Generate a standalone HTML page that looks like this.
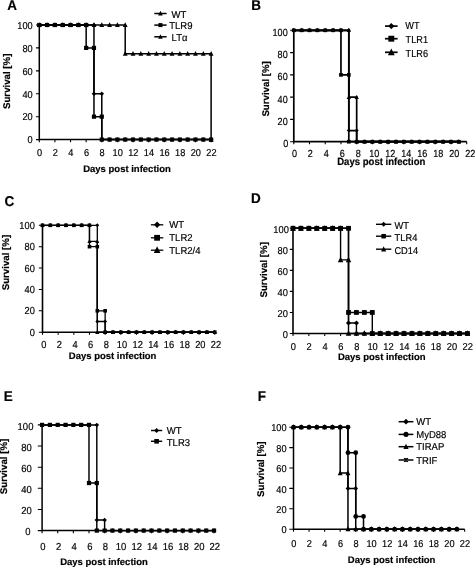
<!DOCTYPE html>
<html lang="en">
<head>
<meta charset="utf-8">
<title>Survival curves</title>
<style>html,body{margin:0;padding:0;background:#fff;}svg{display:block;}</style>
</head>
<body>
<svg width="475" height="567" viewBox="0 0 475 567" font-family="'Liberation Sans', Arial, Helvetica, sans-serif" fill="#000">
<style>text{stroke:#000;stroke-width:0.18px;stroke-linejoin:round;text-rendering:geometricPrecision}</style>
<rect x="0" y="0" width="475" height="567" fill="#fff"/>
<g>
<text transform="translate(7.2,10.299999999999999) scale(0.95,1)" font-size="14.2" font-weight="bold">A</text>
<path d="M39.30,24.50V139.60H211.12" fill="none" stroke="#000" stroke-width="1.5"/>
<path d="M36.00,139.60H39.30M36.00,116.68H39.30M36.00,93.76H39.30M36.00,70.84H39.30M36.00,47.92H39.30M36.00,25.00H39.30M39.30,139.60V142.20M54.92,139.60V142.20M70.54,139.60V142.20M86.16,139.60V142.20M101.78,139.60V142.20M117.40,139.60V142.20M133.02,139.60V142.20M148.64,139.60V142.20M164.26,139.60V142.20M179.88,139.60V142.20M195.50,139.60V142.20M211.12,139.60V142.20" fill="none" stroke="#000" stroke-width="1.1"/>
<g font-size="10.0" text-anchor="end">
<text transform="translate(32.70,143.38) scale(0.92,1)">0</text>
<text transform="translate(32.70,120.46) scale(0.92,1)">20</text>
<text transform="translate(32.70,97.54) scale(0.92,1)">40</text>
<text transform="translate(32.70,74.62) scale(0.92,1)">60</text>
<text transform="translate(32.70,51.70) scale(0.92,1)">80</text>
<text transform="translate(32.70,28.78) scale(0.92,1)">100</text>
</g>
<g font-size="10.0" text-anchor="middle">
<text transform="translate(39.60,155.80) scale(0.92,1)">0</text>
<text transform="translate(55.22,155.80) scale(0.92,1)">2</text>
<text transform="translate(70.84,155.80) scale(0.92,1)">4</text>
<text transform="translate(86.46,155.80) scale(0.92,1)">6</text>
<text transform="translate(102.08,155.80) scale(0.92,1)">8</text>
<text transform="translate(117.70,155.80) scale(0.92,1)">10</text>
<text transform="translate(133.32,155.80) scale(0.92,1)">12</text>
<text transform="translate(148.94,155.80) scale(0.92,1)">14</text>
<text transform="translate(164.56,155.80) scale(0.92,1)">16</text>
<text transform="translate(180.18,155.80) scale(0.92,1)">18</text>
<text transform="translate(195.80,155.80) scale(0.92,1)">20</text>
<text transform="translate(211.42,155.80) scale(0.92,1)">22</text>
</g>
<text transform="translate(127.0,172.4) scale(1.0,1)" font-size="9.5" font-weight="bold" text-anchor="middle">Days post infection</text>
<text transform="translate(9.80,81.30) rotate(-90)" font-size="9.7" font-weight="bold" text-anchor="middle">Survival [%]</text>
<path d="M39.30,25.00L47.11,25.00L54.92,25.00L62.73,25.00L70.54,25.00L78.35,25.00L86.16,25.00L93.97,25.00L101.78,25.00L109.59,25.00L117.40,25.00L125.21,25.00L125.21,53.65L133.02,53.65L140.83,53.65L148.64,53.65L156.45,53.65L164.26,53.65L172.07,53.65L179.88,53.65L187.69,53.65L195.50,53.65L203.31,53.65L211.12,53.65L211.12,139.60" fill="none" stroke="#000" stroke-width="1.5" stroke-linejoin="miter"/>
<path d="M39.30,25.00L47.11,25.00L54.92,25.00L62.73,25.00L70.54,25.00L78.35,25.00L86.16,25.00L93.97,25.00L93.97,93.76L101.78,93.76L101.78,139.60L109.59,139.60L117.40,139.60L125.21,139.60L133.02,139.60L140.83,139.60L148.64,139.60L156.45,139.60L164.26,139.60L172.07,139.60L179.88,139.60L187.69,139.60L195.50,139.60L203.31,139.60L211.12,139.60" fill="none" stroke="#000" stroke-width="1.5" stroke-linejoin="miter"/>
<path d="M39.30,25.00L47.11,25.00L54.92,25.00L62.73,25.00L70.54,25.00L78.35,25.00L86.16,25.00L86.16,47.92L93.97,47.92L93.97,116.68L101.78,116.68L101.78,139.60L109.59,139.60L117.40,139.60L125.21,139.60L133.02,139.60L140.83,139.60L148.64,139.60L156.45,139.60L164.26,139.60L172.07,139.60L179.88,139.60L187.69,139.60L195.50,139.60L203.31,139.60L211.12,139.60" fill="none" stroke="#000" stroke-width="1.5" stroke-linejoin="miter"/>
<polygon points="39.30,22.23 41.71,27.06 36.88,27.06"/>
<polygon points="47.11,22.23 49.52,27.06 44.70,27.06"/>
<polygon points="54.92,22.23 57.33,27.06 52.50,27.06"/>
<polygon points="62.73,22.23 65.14,27.06 60.31,27.06"/>
<polygon points="70.54,22.23 72.95,27.06 68.12,27.06"/>
<polygon points="78.35,22.23 80.77,27.06 75.93,27.06"/>
<polygon points="86.16,22.23 88.58,27.06 83.74,27.06"/>
<polygon points="93.97,22.23 96.39,27.06 91.55,27.06"/>
<polygon points="101.78,22.23 104.20,27.06 99.36,27.06"/>
<polygon points="109.59,22.23 112.00,27.06 107.17,27.06"/>
<polygon points="117.40,22.23 119.81,27.06 114.98,27.06"/>
<polygon points="125.21,22.23 127.62,27.06 122.79,27.06"/>
<polygon points="125.21,50.88 127.62,55.71 122.79,55.71"/>
<polygon points="133.02,50.88 135.43,55.71 130.60,55.71"/>
<polygon points="140.83,50.88 143.24,55.71 138.41,55.71"/>
<polygon points="148.64,50.88 151.05,55.71 146.22,55.71"/>
<polygon points="156.45,50.88 158.86,55.71 154.03,55.71"/>
<polygon points="164.26,50.88 166.67,55.71 161.84,55.71"/>
<polygon points="172.07,50.88 174.48,55.71 169.66,55.71"/>
<polygon points="179.88,50.88 182.29,55.71 177.47,55.71"/>
<polygon points="187.69,50.88 190.10,55.71 185.28,55.71"/>
<polygon points="195.50,50.88 197.91,55.71 193.09,55.71"/>
<polygon points="203.31,50.88 205.72,55.71 200.90,55.71"/>
<polygon points="211.12,50.88 213.53,55.71 208.71,55.71"/>
<polygon points="211.12,136.83 213.53,141.66 208.71,141.66"/>
<polygon points="39.30,22.73 41.57,25.00 39.30,27.27 37.03,25.00"/>
<polygon points="47.11,22.73 49.38,25.00 47.11,27.27 44.84,25.00"/>
<polygon points="54.92,22.73 57.19,25.00 54.92,27.27 52.65,25.00"/>
<polygon points="62.73,22.73 65.00,25.00 62.73,27.27 60.46,25.00"/>
<polygon points="70.54,22.73 72.81,25.00 70.54,27.27 68.27,25.00"/>
<polygon points="78.35,22.73 80.62,25.00 78.35,27.27 76.08,25.00"/>
<polygon points="86.16,22.73 88.43,25.00 86.16,27.27 83.89,25.00"/>
<polygon points="93.97,22.73 96.24,25.00 93.97,27.27 91.70,25.00"/>
<polygon points="93.97,91.49 96.24,93.76 93.97,96.03 91.70,93.76"/>
<polygon points="101.78,91.49 104.05,93.76 101.78,96.03 99.51,93.76"/>
<polygon points="101.78,137.33 104.05,139.60 101.78,141.87 99.51,139.60"/>
<polygon points="109.59,137.33 111.86,139.60 109.59,141.87 107.32,139.60"/>
<polygon points="117.40,137.33 119.67,139.60 117.40,141.87 115.13,139.60"/>
<polygon points="125.21,137.33 127.48,139.60 125.21,141.87 122.94,139.60"/>
<polygon points="133.02,137.33 135.29,139.60 133.02,141.87 130.75,139.60"/>
<polygon points="140.83,137.33 143.10,139.60 140.83,141.87 138.56,139.60"/>
<polygon points="148.64,137.33 150.91,139.60 148.64,141.87 146.37,139.60"/>
<polygon points="156.45,137.33 158.72,139.60 156.45,141.87 154.18,139.60"/>
<polygon points="164.26,137.33 166.53,139.60 164.26,141.87 161.99,139.60"/>
<polygon points="172.07,137.33 174.34,139.60 172.07,141.87 169.80,139.60"/>
<polygon points="179.88,137.33 182.15,139.60 179.88,141.87 177.61,139.60"/>
<polygon points="187.69,137.33 189.96,139.60 187.69,141.87 185.42,139.60"/>
<polygon points="195.50,137.33 197.77,139.60 195.50,141.87 193.23,139.60"/>
<polygon points="203.31,137.33 205.58,139.60 203.31,141.87 201.04,139.60"/>
<polygon points="211.12,137.33 213.39,139.60 211.12,141.87 208.85,139.60"/>
<rect x="37.20" y="22.90" width="4.20" height="4.20"/>
<rect x="45.01" y="22.90" width="4.20" height="4.20"/>
<rect x="52.82" y="22.90" width="4.20" height="4.20"/>
<rect x="60.63" y="22.90" width="4.20" height="4.20"/>
<rect x="68.44" y="22.90" width="4.20" height="4.20"/>
<rect x="76.25" y="22.90" width="4.20" height="4.20"/>
<rect x="84.06" y="22.90" width="4.20" height="4.20"/>
<rect x="84.06" y="45.82" width="4.20" height="4.20"/>
<rect x="91.87" y="45.82" width="4.20" height="4.20"/>
<rect x="91.87" y="114.58" width="4.20" height="4.20"/>
<rect x="99.68" y="114.58" width="4.20" height="4.20"/>
<rect x="99.68" y="137.50" width="4.20" height="4.20"/>
<rect x="107.49" y="137.50" width="4.20" height="4.20"/>
<rect x="115.30" y="137.50" width="4.20" height="4.20"/>
<rect x="123.11" y="137.50" width="4.20" height="4.20"/>
<rect x="130.92" y="137.50" width="4.20" height="4.20"/>
<rect x="138.73" y="137.50" width="4.20" height="4.20"/>
<rect x="146.54" y="137.50" width="4.20" height="4.20"/>
<rect x="154.35" y="137.50" width="4.20" height="4.20"/>
<rect x="162.16" y="137.50" width="4.20" height="4.20"/>
<rect x="169.97" y="137.50" width="4.20" height="4.20"/>
<rect x="177.78" y="137.50" width="4.20" height="4.20"/>
<rect x="185.59" y="137.50" width="4.20" height="4.20"/>
<rect x="193.40" y="137.50" width="4.20" height="4.20"/>
<rect x="201.21" y="137.50" width="4.20" height="4.20"/>
<rect x="209.02" y="137.50" width="4.20" height="4.20"/>
<path d="M154.3,13.50H166.6" stroke="#000" stroke-width="1.5" fill="none"/>
<polygon points="160.45,10.86 162.75,15.46 158.15,15.46"/>
<text transform="translate(171.5,17.78) scale(0.95,1)" font-size="10.0">WT</text>
<path d="M154.3,25.10H166.6" stroke="#000" stroke-width="1.5" fill="none"/>
<rect x="158.45" y="23.10" width="4.00" height="4.00"/>
<text transform="translate(169.2,29.18) scale(0.95,1)" font-size="10.0">TLR9</text>
<path d="M154.3,36.80H166.6" stroke="#000" stroke-width="1.5" fill="none"/>
<polygon points="160.45,34.16 162.75,38.76 158.15,38.76"/>
<text transform="translate(171.6,40.88) scale(0.95,1)" font-size="10.0">LTα</text>
</g>
<g>
<text transform="translate(251.3,10.299999999999999) scale(0.95,1)" font-size="14.2" font-weight="bold">B</text>
<path d="M293.80,29.80V141.70H466.72" fill="none" stroke="#000" stroke-width="1.7"/>
<path d="M290.10,141.70H293.80M290.10,119.42H293.80M290.10,97.14H293.80M290.10,74.86H293.80M290.10,52.58H293.80M290.10,30.30H293.80M293.80,141.70V144.30M309.52,141.70V144.30M325.24,141.70V144.30M340.96,141.70V144.30M356.68,141.70V144.30M372.40,141.70V144.30M388.12,141.70V144.30M403.84,141.70V144.30M419.56,141.70V144.30M435.28,141.70V144.30M451.00,141.70V144.30M466.72,141.70V144.30" fill="none" stroke="#000" stroke-width="1.1"/>
<g font-size="10.3" text-anchor="end">
<text transform="translate(288.20,147.19) scale(0.88,1)">0</text>
<text transform="translate(287.70,124.91) scale(0.88,1)">20</text>
<text transform="translate(287.70,102.63) scale(0.88,1)">40</text>
<text transform="translate(287.70,80.35) scale(0.88,1)">60</text>
<text transform="translate(287.70,58.07) scale(0.88,1)">80</text>
<text transform="translate(287.70,35.79) scale(0.88,1)">100</text>
</g>
<g font-size="10.3" text-anchor="middle">
<text transform="translate(294.40,156.60) scale(0.88,1)">0</text>
<text transform="translate(310.38,156.60) scale(0.88,1)">2</text>
<text transform="translate(326.36,156.60) scale(0.88,1)">4</text>
<text transform="translate(342.34,156.60) scale(0.88,1)">6</text>
<text transform="translate(358.32,156.60) scale(0.88,1)">8</text>
<text transform="translate(374.30,156.60) scale(0.88,1)">10</text>
<text transform="translate(390.28,156.60) scale(0.88,1)">12</text>
<text transform="translate(406.26,156.60) scale(0.88,1)">14</text>
<text transform="translate(422.24,156.60) scale(0.88,1)">16</text>
<text transform="translate(438.22,156.60) scale(0.88,1)">18</text>
<text transform="translate(454.20,156.60) scale(0.88,1)">20</text>
<text transform="translate(470.18,156.60) scale(0.88,1)">22</text>
</g>
<text transform="translate(381.3,165.0) scale(0.92,1)" font-size="10.4" font-weight="bold" text-anchor="middle">Days post infection</text>
<text transform="translate(269.40,88.90) rotate(-90)" font-size="9.7" font-weight="bold" text-anchor="middle">Survival [%]</text>
<path d="M293.80,30.30L301.66,30.30L309.52,30.30L317.38,30.30L325.24,30.30L333.10,30.30L340.96,30.30L348.82,30.30L348.82,97.14L356.68,97.14L356.68,141.70L364.54,141.70L372.40,141.70L380.26,141.70L388.12,141.70L395.98,141.70L403.84,141.70L411.70,141.70L419.56,141.70L427.42,141.70L435.28,141.70L443.14,141.70L451.00,141.70L458.86,141.70" fill="none" stroke="#000" stroke-width="1.7" stroke-linejoin="miter"/>
<path d="M293.80,30.30L301.66,30.30L309.52,30.30L317.38,30.30L325.24,30.30L333.10,30.30L340.96,30.30L348.82,30.30L348.82,130.56L356.68,130.56L356.68,141.70L364.54,141.70L372.40,141.70L380.26,141.70L388.12,141.70L395.98,141.70L403.84,141.70L411.70,141.70L419.56,141.70L427.42,141.70L435.28,141.70L443.14,141.70L451.00,141.70L458.86,141.70" fill="none" stroke="#000" stroke-width="1.7" stroke-linejoin="miter"/>
<path d="M293.80,30.30L301.66,30.30L309.52,30.30L317.38,30.30L325.24,30.30L333.10,30.30L340.96,30.30L340.96,74.86L348.82,74.86L348.82,141.70L356.68,141.70L364.54,141.70L372.40,141.70L380.26,141.70L388.12,141.70L395.98,141.70L403.84,141.70L411.70,141.70L419.56,141.70L427.42,141.70L435.28,141.70L443.14,141.70L451.00,141.70L458.86,141.70" fill="none" stroke="#000" stroke-width="1.7" stroke-linejoin="miter"/>
<polygon points="293.80,27.86 295.93,32.11 291.67,32.11"/>
<polygon points="301.66,27.86 303.79,32.11 299.53,32.11"/>
<polygon points="309.52,27.86 311.65,32.11 307.39,32.11"/>
<polygon points="317.38,27.86 319.51,32.11 315.25,32.11"/>
<polygon points="325.24,27.86 327.37,32.11 323.11,32.11"/>
<polygon points="333.10,27.86 335.23,32.11 330.97,32.11"/>
<polygon points="340.96,27.86 343.09,32.11 338.83,32.11"/>
<polygon points="348.82,27.86 350.95,32.11 346.69,32.11"/>
<polygon points="348.82,94.70 350.95,98.95 346.69,98.95"/>
<polygon points="356.68,94.70 358.81,98.95 354.55,98.95"/>
<polygon points="356.68,139.26 358.81,143.51 354.55,143.51"/>
<polygon points="364.54,139.26 366.67,143.51 362.41,143.51"/>
<polygon points="372.40,139.26 374.53,143.51 370.27,143.51"/>
<polygon points="380.26,139.26 382.39,143.51 378.13,143.51"/>
<polygon points="388.12,139.26 390.25,143.51 385.99,143.51"/>
<polygon points="395.98,139.26 398.11,143.51 393.85,143.51"/>
<polygon points="403.84,139.26 405.97,143.51 401.71,143.51"/>
<polygon points="411.70,139.26 413.83,143.51 409.57,143.51"/>
<polygon points="419.56,139.26 421.69,143.51 417.43,143.51"/>
<polygon points="427.42,139.26 429.55,143.51 425.29,143.51"/>
<polygon points="435.28,139.26 437.41,143.51 433.15,143.51"/>
<polygon points="443.14,139.26 445.27,143.51 441.01,143.51"/>
<polygon points="451.00,139.26 453.13,143.51 448.87,143.51"/>
<polygon points="458.86,139.26 460.99,143.51 456.73,143.51"/>
<polygon points="293.80,28.30 295.80,30.30 293.80,32.30 291.80,30.30"/>
<polygon points="301.66,28.30 303.66,30.30 301.66,32.30 299.66,30.30"/>
<polygon points="309.52,28.30 311.52,30.30 309.52,32.30 307.52,30.30"/>
<polygon points="317.38,28.30 319.38,30.30 317.38,32.30 315.38,30.30"/>
<polygon points="325.24,28.30 327.24,30.30 325.24,32.30 323.24,30.30"/>
<polygon points="333.10,28.30 335.10,30.30 333.10,32.30 331.10,30.30"/>
<polygon points="340.96,28.30 342.96,30.30 340.96,32.30 338.96,30.30"/>
<polygon points="348.82,28.30 350.82,30.30 348.82,32.30 346.82,30.30"/>
<polygon points="348.82,128.56 350.82,130.56 348.82,132.56 346.82,130.56"/>
<polygon points="356.68,128.56 358.68,130.56 356.68,132.56 354.68,130.56"/>
<polygon points="356.68,139.70 358.68,141.70 356.68,143.70 354.68,141.70"/>
<polygon points="364.54,139.70 366.54,141.70 364.54,143.70 362.54,141.70"/>
<polygon points="372.40,139.70 374.40,141.70 372.40,143.70 370.40,141.70"/>
<polygon points="380.26,139.70 382.26,141.70 380.26,143.70 378.26,141.70"/>
<polygon points="388.12,139.70 390.12,141.70 388.12,143.70 386.12,141.70"/>
<polygon points="395.98,139.70 397.98,141.70 395.98,143.70 393.98,141.70"/>
<polygon points="403.84,139.70 405.84,141.70 403.84,143.70 401.84,141.70"/>
<polygon points="411.70,139.70 413.70,141.70 411.70,143.70 409.70,141.70"/>
<polygon points="419.56,139.70 421.56,141.70 419.56,143.70 417.56,141.70"/>
<polygon points="427.42,139.70 429.42,141.70 427.42,143.70 425.42,141.70"/>
<polygon points="435.28,139.70 437.28,141.70 435.28,143.70 433.28,141.70"/>
<polygon points="443.14,139.70 445.14,141.70 443.14,143.70 441.14,141.70"/>
<polygon points="451.00,139.70 453.00,141.70 451.00,143.70 449.00,141.70"/>
<polygon points="458.86,139.70 460.86,141.70 458.86,143.70 456.86,141.70"/>
<rect x="291.95" y="28.45" width="3.70" height="3.70"/>
<rect x="299.81" y="28.45" width="3.70" height="3.70"/>
<rect x="307.67" y="28.45" width="3.70" height="3.70"/>
<rect x="315.53" y="28.45" width="3.70" height="3.70"/>
<rect x="323.39" y="28.45" width="3.70" height="3.70"/>
<rect x="331.25" y="28.45" width="3.70" height="3.70"/>
<rect x="339.11" y="28.45" width="3.70" height="3.70"/>
<rect x="339.11" y="73.01" width="3.70" height="3.70"/>
<rect x="346.97" y="73.01" width="3.70" height="3.70"/>
<rect x="346.97" y="139.85" width="3.70" height="3.70"/>
<rect x="354.83" y="139.85" width="3.70" height="3.70"/>
<rect x="362.69" y="139.85" width="3.70" height="3.70"/>
<rect x="370.55" y="139.85" width="3.70" height="3.70"/>
<rect x="378.41" y="139.85" width="3.70" height="3.70"/>
<rect x="386.27" y="139.85" width="3.70" height="3.70"/>
<rect x="394.13" y="139.85" width="3.70" height="3.70"/>
<rect x="401.99" y="139.85" width="3.70" height="3.70"/>
<rect x="409.85" y="139.85" width="3.70" height="3.70"/>
<rect x="417.71" y="139.85" width="3.70" height="3.70"/>
<rect x="425.57" y="139.85" width="3.70" height="3.70"/>
<rect x="433.43" y="139.85" width="3.70" height="3.70"/>
<rect x="441.29" y="139.85" width="3.70" height="3.70"/>
<rect x="449.15" y="139.85" width="3.70" height="3.70"/>
<rect x="457.01" y="139.85" width="3.70" height="3.70"/>
<path d="M385.0,26.10H397.6" stroke="#000" stroke-width="1.7" fill="none"/>
<polygon points="391.30,23.03 394.37,26.10 391.30,29.17 388.23,26.10"/>
<text transform="translate(405.3,29.05) scale(0.9,1)" font-size="10.2">WT</text>
<path d="M385.0,38.70H397.6" stroke="#000" stroke-width="1.7" fill="none"/>
<rect x="388.35" y="35.75" width="5.90" height="5.90"/>
<text transform="translate(405.6,42.55) scale(0.9,1)" font-size="10.2">TLR1</text>
<path d="M385.0,52.30H397.6" stroke="#000" stroke-width="1.7" fill="none"/>
<polygon points="391.30,48.41 394.69,55.19 387.91,55.19"/>
<text transform="translate(405.6,56.65) scale(0.9,1)" font-size="10.2">TLR6</text>
</g>
<g>
<text transform="translate(4.5,206.2) scale(0.95,1)" font-size="14.2" font-weight="bold">C</text>
<path d="M42.50,224.80V332.20H214.76" fill="none" stroke="#000" stroke-width="1.6"/>
<path d="M38.80,332.20H42.50M38.80,310.82H42.50M38.80,289.44H42.50M38.80,268.06H42.50M38.80,246.68H42.50M38.80,225.30H42.50M42.50,332.20V334.80M58.16,332.20V334.80M73.82,332.20V334.80M89.48,332.20V334.80M105.14,332.20V334.80M120.80,332.20V334.80M136.46,332.20V334.80M152.12,332.20V334.80M167.78,332.20V334.80M183.44,332.20V334.80M199.10,332.20V334.80M214.76,332.20V334.80" fill="none" stroke="#000" stroke-width="1.1"/>
<g font-size="10.2" text-anchor="end">
<text transform="translate(34.80,335.86) scale(0.91,1)">0</text>
<text transform="translate(34.80,314.48) scale(0.91,1)">20</text>
<text transform="translate(34.80,293.10) scale(0.91,1)">40</text>
<text transform="translate(34.80,271.72) scale(0.91,1)">60</text>
<text transform="translate(34.80,250.34) scale(0.91,1)">80</text>
<text transform="translate(34.80,228.96) scale(0.91,1)">100</text>
</g>
<g font-size="10.2" text-anchor="middle">
<text transform="translate(43.70,347.60) scale(0.91,1)">0</text>
<text transform="translate(59.36,347.60) scale(0.91,1)">2</text>
<text transform="translate(75.02,347.60) scale(0.91,1)">4</text>
<text transform="translate(90.68,347.60) scale(0.91,1)">6</text>
<text transform="translate(106.34,347.60) scale(0.91,1)">8</text>
<text transform="translate(122.00,347.60) scale(0.91,1)">10</text>
<text transform="translate(137.66,347.60) scale(0.91,1)">12</text>
<text transform="translate(153.32,347.60) scale(0.91,1)">14</text>
<text transform="translate(168.98,347.60) scale(0.91,1)">16</text>
<text transform="translate(184.64,347.60) scale(0.91,1)">18</text>
<text transform="translate(200.30,347.60) scale(0.91,1)">20</text>
<text transform="translate(215.96,347.60) scale(0.91,1)">22</text>
</g>
<text transform="translate(112.6,359.0) scale(1.0,1)" font-size="9.5" font-weight="bold" text-anchor="middle">Days post infection</text>
<text transform="translate(9.20,262.60) rotate(-90)" font-size="9.7" font-weight="bold" text-anchor="middle">Survival [%]</text>
<path d="M42.50,225.30L50.33,225.30L58.16,225.30L65.99,225.30L73.82,225.30L81.65,225.30L89.48,225.30L89.48,241.34L97.31,241.34L97.31,332.20L105.14,332.20L112.97,332.20L120.80,332.20L128.63,332.20L136.46,332.20L144.29,332.20L152.12,332.20L159.95,332.20L167.78,332.20L175.61,332.20L183.44,332.20L191.27,332.20L199.10,332.20L206.93,332.20L214.76,332.20" fill="none" stroke="#000" stroke-width="1.3" stroke-linejoin="miter"/>
<path d="M42.50,225.30L50.33,225.30L58.16,225.30L65.99,225.30L73.82,225.30L81.65,225.30L89.48,225.30L97.31,225.30L97.31,321.51L105.14,321.51L105.14,332.20L112.97,332.20L120.80,332.20L128.63,332.20L136.46,332.20L144.29,332.20L152.12,332.20L159.95,332.20L167.78,332.20L175.61,332.20L183.44,332.20L191.27,332.20L199.10,332.20L206.93,332.20L214.76,332.20" fill="none" stroke="#000" stroke-width="1.3" stroke-linejoin="miter"/>
<path d="M42.50,225.30L50.33,225.30L58.16,225.30L65.99,225.30L73.82,225.30L81.65,225.30L89.48,225.30L89.48,246.68L97.31,246.68L97.31,310.82L105.14,310.82L105.14,332.20L112.97,332.20L120.80,332.20L128.63,332.20L136.46,332.20L144.29,332.20L152.12,332.20L159.95,332.20L167.78,332.20L175.61,332.20L183.44,332.20L191.27,332.20L199.10,332.20L206.93,332.20L214.76,332.20" fill="none" stroke="#000" stroke-width="1.3" stroke-linejoin="miter"/>
<polygon points="42.50,222.92 44.57,227.06 40.43,227.06"/>
<polygon points="50.33,222.92 52.40,227.06 48.26,227.06"/>
<polygon points="58.16,222.92 60.23,227.06 56.09,227.06"/>
<polygon points="65.99,222.92 68.06,227.06 63.92,227.06"/>
<polygon points="73.82,222.92 75.89,227.06 71.75,227.06"/>
<polygon points="81.65,222.92 83.72,227.06 79.58,227.06"/>
<polygon points="89.48,222.92 91.55,227.06 87.41,227.06"/>
<polygon points="89.48,238.96 91.55,243.10 87.41,243.10"/>
<polygon points="97.31,238.96 99.38,243.10 95.24,243.10"/>
<polygon points="97.31,329.82 99.38,333.96 95.24,333.96"/>
<polygon points="105.14,329.82 107.21,333.96 103.07,333.96"/>
<polygon points="112.97,329.82 115.04,333.96 110.90,333.96"/>
<polygon points="120.80,329.82 122.87,333.96 118.73,333.96"/>
<polygon points="128.63,329.82 130.70,333.96 126.56,333.96"/>
<polygon points="136.46,329.82 138.53,333.96 134.39,333.96"/>
<polygon points="144.29,329.82 146.36,333.96 142.22,333.96"/>
<polygon points="152.12,329.82 154.19,333.96 150.05,333.96"/>
<polygon points="159.95,329.82 162.02,333.96 157.88,333.96"/>
<polygon points="167.78,329.82 169.85,333.96 165.71,333.96"/>
<polygon points="175.61,329.82 177.68,333.96 173.54,333.96"/>
<polygon points="183.44,329.82 185.51,333.96 181.37,333.96"/>
<polygon points="191.27,329.82 193.34,333.96 189.20,333.96"/>
<polygon points="199.10,329.82 201.17,333.96 197.03,333.96"/>
<polygon points="206.93,329.82 209.00,333.96 204.86,333.96"/>
<polygon points="214.76,329.82 216.83,333.96 212.69,333.96"/>
<polygon points="42.50,223.36 44.44,225.30 42.50,227.24 40.56,225.30"/>
<polygon points="50.33,223.36 52.27,225.30 50.33,227.24 48.39,225.30"/>
<polygon points="58.16,223.36 60.10,225.30 58.16,227.24 56.22,225.30"/>
<polygon points="65.99,223.36 67.93,225.30 65.99,227.24 64.05,225.30"/>
<polygon points="73.82,223.36 75.76,225.30 73.82,227.24 71.88,225.30"/>
<polygon points="81.65,223.36 83.59,225.30 81.65,227.24 79.71,225.30"/>
<polygon points="89.48,223.36 91.42,225.30 89.48,227.24 87.54,225.30"/>
<polygon points="97.31,223.36 99.25,225.30 97.31,227.24 95.37,225.30"/>
<polygon points="97.31,319.57 99.25,321.51 97.31,323.45 95.37,321.51"/>
<polygon points="105.14,319.57 107.08,321.51 105.14,323.45 103.20,321.51"/>
<polygon points="105.14,330.26 107.08,332.20 105.14,334.14 103.20,332.20"/>
<polygon points="112.97,330.26 114.91,332.20 112.97,334.14 111.03,332.20"/>
<polygon points="120.80,330.26 122.74,332.20 120.80,334.14 118.86,332.20"/>
<polygon points="128.63,330.26 130.57,332.20 128.63,334.14 126.69,332.20"/>
<polygon points="136.46,330.26 138.40,332.20 136.46,334.14 134.52,332.20"/>
<polygon points="144.29,330.26 146.23,332.20 144.29,334.14 142.35,332.20"/>
<polygon points="152.12,330.26 154.06,332.20 152.12,334.14 150.18,332.20"/>
<polygon points="159.95,330.26 161.89,332.20 159.95,334.14 158.01,332.20"/>
<polygon points="167.78,330.26 169.72,332.20 167.78,334.14 165.84,332.20"/>
<polygon points="175.61,330.26 177.55,332.20 175.61,334.14 173.67,332.20"/>
<polygon points="183.44,330.26 185.38,332.20 183.44,334.14 181.50,332.20"/>
<polygon points="191.27,330.26 193.21,332.20 191.27,334.14 189.33,332.20"/>
<polygon points="199.10,330.26 201.04,332.20 199.10,334.14 197.16,332.20"/>
<polygon points="206.93,330.26 208.87,332.20 206.93,334.14 204.99,332.20"/>
<polygon points="214.76,330.26 216.70,332.20 214.76,334.14 212.82,332.20"/>
<rect x="40.70" y="223.50" width="3.60" height="3.60"/>
<rect x="48.53" y="223.50" width="3.60" height="3.60"/>
<rect x="56.36" y="223.50" width="3.60" height="3.60"/>
<rect x="64.19" y="223.50" width="3.60" height="3.60"/>
<rect x="72.02" y="223.50" width="3.60" height="3.60"/>
<rect x="79.85" y="223.50" width="3.60" height="3.60"/>
<rect x="87.68" y="223.50" width="3.60" height="3.60"/>
<rect x="87.68" y="244.88" width="3.60" height="3.60"/>
<rect x="95.51" y="244.88" width="3.60" height="3.60"/>
<rect x="95.51" y="309.02" width="3.60" height="3.60"/>
<rect x="103.34" y="309.02" width="3.60" height="3.60"/>
<rect x="103.34" y="330.40" width="3.60" height="3.60"/>
<rect x="111.17" y="330.40" width="3.60" height="3.60"/>
<rect x="119.00" y="330.40" width="3.60" height="3.60"/>
<rect x="126.83" y="330.40" width="3.60" height="3.60"/>
<rect x="134.66" y="330.40" width="3.60" height="3.60"/>
<rect x="142.49" y="330.40" width="3.60" height="3.60"/>
<rect x="150.32" y="330.40" width="3.60" height="3.60"/>
<rect x="158.15" y="330.40" width="3.60" height="3.60"/>
<rect x="165.98" y="330.40" width="3.60" height="3.60"/>
<rect x="173.81" y="330.40" width="3.60" height="3.60"/>
<rect x="181.64" y="330.40" width="3.60" height="3.60"/>
<rect x="189.47" y="330.40" width="3.60" height="3.60"/>
<rect x="197.30" y="330.40" width="3.60" height="3.60"/>
<rect x="205.13" y="330.40" width="3.60" height="3.60"/>
<rect x="212.96" y="330.40" width="3.60" height="3.60"/>
<path d="M150.9,224.80H163.3" stroke="#000" stroke-width="1.3" fill="none"/>
<polygon points="157.10,221.61 160.29,224.80 157.10,227.99 153.91,224.80"/>
<text transform="translate(169.3,228.38) scale(0.95,1)" font-size="10.0">WT</text>
<path d="M150.9,237.80H163.3" stroke="#000" stroke-width="1.3" fill="none"/>
<rect x="154.20" y="234.90" width="5.80" height="5.80"/>
<text transform="translate(169.3,241.38) scale(0.95,1)" font-size="10.0">TLR2</text>
<path d="M150.9,250.20H163.3" stroke="#000" stroke-width="1.3" fill="none"/>
<polygon points="157.10,246.37 160.44,253.04 153.77,253.04"/>
<text transform="translate(169.3,253.78) scale(0.95,1)" font-size="10.0">TLR2/4</text>
</g>
<g>
<text transform="translate(251.0,203.2) scale(0.95,1)" font-size="14.2" font-weight="bold">D</text>
<path d="M293.00,227.80V333.50H467.46" fill="none" stroke="#000" stroke-width="1.6"/>
<path d="M289.80,333.50H293.00M289.80,312.46H293.00M289.80,291.42H293.00M289.80,270.38H293.00M289.80,249.34H293.00M289.80,228.30H293.00M293.00,333.50V336.10M308.86,333.50V336.10M324.72,333.50V336.10M340.58,333.50V336.10M356.44,333.50V336.10M372.30,333.50V336.10M388.16,333.50V336.10M404.02,333.50V336.10M419.88,333.50V336.10M435.74,333.50V336.10M451.60,333.50V336.10M467.46,333.50V336.10" fill="none" stroke="#000" stroke-width="1.1"/>
<g font-size="10.0" text-anchor="end">
<text transform="translate(287.80,338.48) scale(0.93,1)">0</text>
<text transform="translate(287.80,317.44) scale(0.93,1)">20</text>
<text transform="translate(287.80,296.40) scale(0.93,1)">40</text>
<text transform="translate(287.80,275.36) scale(0.93,1)">60</text>
<text transform="translate(287.80,254.32) scale(0.93,1)">80</text>
<text transform="translate(288.80,233.28) scale(0.93,1)">100</text>
</g>
<g font-size="10.0" text-anchor="middle">
<text transform="translate(293.30,349.70) scale(0.93,1)">0</text>
<text transform="translate(309.16,349.70) scale(0.93,1)">2</text>
<text transform="translate(325.02,349.70) scale(0.93,1)">4</text>
<text transform="translate(340.88,349.70) scale(0.93,1)">6</text>
<text transform="translate(356.74,349.70) scale(0.93,1)">8</text>
<text transform="translate(372.60,349.70) scale(0.93,1)">10</text>
<text transform="translate(388.46,349.70) scale(0.93,1)">12</text>
<text transform="translate(404.32,349.70) scale(0.93,1)">14</text>
<text transform="translate(420.18,349.70) scale(0.93,1)">16</text>
<text transform="translate(436.04,349.70) scale(0.93,1)">18</text>
<text transform="translate(451.90,349.70) scale(0.93,1)">20</text>
<text transform="translate(467.76,349.70) scale(0.93,1)">22</text>
</g>
<text transform="translate(381.7,360.4) scale(1.0,1)" font-size="9.5" font-weight="bold" text-anchor="middle">Days post infection</text>
<text transform="translate(266.50,269.80) rotate(-90)" font-size="9.7" font-weight="bold" text-anchor="middle">Survival [%]</text>
<path d="M293.00,228.30L300.93,228.30L308.86,228.30L316.79,228.30L324.72,228.30L332.65,228.30L340.58,228.30L340.58,259.86L348.51,259.86L348.51,333.50L356.44,333.50L364.37,333.50L372.30,333.50L380.23,333.50L388.16,333.50L396.09,333.50L404.02,333.50L411.95,333.50L419.88,333.50L427.81,333.50L435.74,333.50L443.67,333.50L451.60,333.50L459.53,333.50L467.46,333.50" fill="none" stroke="#000" stroke-width="1.4" stroke-linejoin="miter"/>
<path d="M293.00,228.30L300.93,228.30L308.86,228.30L316.79,228.30L324.72,228.30L332.65,228.30L340.58,228.30L348.51,228.30L348.51,322.98L356.44,322.98L356.44,333.50L364.37,333.50L372.30,333.50L380.23,333.50L388.16,333.50L396.09,333.50L404.02,333.50L411.95,333.50L419.88,333.50L427.81,333.50L435.74,333.50L443.67,333.50L451.60,333.50L459.53,333.50L467.46,333.50" fill="none" stroke="#000" stroke-width="1.4" stroke-linejoin="miter"/>
<path d="M293.00,228.30L300.93,228.30L308.86,228.30L316.79,228.30L324.72,228.30L332.65,228.30L340.58,228.30L348.51,228.30L348.51,312.46L356.44,312.46L364.37,312.46L372.30,312.46L372.30,333.50L380.23,333.50L388.16,333.50L396.09,333.50L404.02,333.50L411.95,333.50L419.88,333.50L427.81,333.50L435.74,333.50L443.67,333.50L451.60,333.50L459.53,333.50L467.46,333.50" fill="none" stroke="#000" stroke-width="1.4" stroke-linejoin="miter"/>
<polygon points="293.00,225.13 295.76,230.65 290.24,230.65"/>
<polygon points="300.93,225.13 303.69,230.65 298.17,230.65"/>
<polygon points="308.86,225.13 311.62,230.65 306.10,230.65"/>
<polygon points="316.79,225.13 319.55,230.65 314.03,230.65"/>
<polygon points="324.72,225.13 327.48,230.65 321.96,230.65"/>
<polygon points="332.65,225.13 335.41,230.65 329.89,230.65"/>
<polygon points="340.58,225.13 343.34,230.65 337.82,230.65"/>
<polygon points="340.58,256.69 343.34,262.21 337.82,262.21"/>
<polygon points="348.51,256.69 351.27,262.21 345.75,262.21"/>
<polygon points="348.51,330.33 351.27,335.85 345.75,335.85"/>
<polygon points="356.44,330.33 359.20,335.85 353.68,335.85"/>
<polygon points="364.37,330.33 367.13,335.85 361.61,335.85"/>
<polygon points="372.30,330.33 375.06,335.85 369.54,335.85"/>
<polygon points="380.23,330.33 382.99,335.85 377.47,335.85"/>
<polygon points="388.16,330.33 390.92,335.85 385.40,335.85"/>
<polygon points="396.09,330.33 398.85,335.85 393.33,335.85"/>
<polygon points="404.02,330.33 406.78,335.85 401.26,335.85"/>
<polygon points="411.95,330.33 414.71,335.85 409.19,335.85"/>
<polygon points="419.88,330.33 422.64,335.85 417.12,335.85"/>
<polygon points="427.81,330.33 430.57,335.85 425.05,335.85"/>
<polygon points="435.74,330.33 438.50,335.85 432.98,335.85"/>
<polygon points="443.67,330.33 446.43,335.85 440.91,335.85"/>
<polygon points="451.60,330.33 454.36,335.85 448.84,335.85"/>
<polygon points="459.53,330.33 462.29,335.85 456.77,335.85"/>
<polygon points="467.46,330.33 470.22,335.85 464.70,335.85"/>
<polygon points="293.00,225.71 295.59,228.30 293.00,230.89 290.41,228.30"/>
<polygon points="300.93,225.71 303.52,228.30 300.93,230.89 298.34,228.30"/>
<polygon points="308.86,225.71 311.45,228.30 308.86,230.89 306.27,228.30"/>
<polygon points="316.79,225.71 319.38,228.30 316.79,230.89 314.20,228.30"/>
<polygon points="324.72,225.71 327.31,228.30 324.72,230.89 322.13,228.30"/>
<polygon points="332.65,225.71 335.24,228.30 332.65,230.89 330.06,228.30"/>
<polygon points="340.58,225.71 343.17,228.30 340.58,230.89 337.99,228.30"/>
<polygon points="348.51,225.71 351.10,228.30 348.51,230.89 345.92,228.30"/>
<polygon points="348.51,320.39 351.10,322.98 348.51,325.57 345.92,322.98"/>
<polygon points="356.44,320.39 359.03,322.98 356.44,325.57 353.85,322.98"/>
<polygon points="356.44,330.91 359.03,333.50 356.44,336.09 353.85,333.50"/>
<polygon points="364.37,330.91 366.96,333.50 364.37,336.09 361.78,333.50"/>
<polygon points="372.30,330.91 374.89,333.50 372.30,336.09 369.71,333.50"/>
<polygon points="380.23,330.91 382.82,333.50 380.23,336.09 377.64,333.50"/>
<polygon points="388.16,330.91 390.75,333.50 388.16,336.09 385.57,333.50"/>
<polygon points="396.09,330.91 398.68,333.50 396.09,336.09 393.50,333.50"/>
<polygon points="404.02,330.91 406.61,333.50 404.02,336.09 401.43,333.50"/>
<polygon points="411.95,330.91 414.54,333.50 411.95,336.09 409.36,333.50"/>
<polygon points="419.88,330.91 422.47,333.50 419.88,336.09 417.29,333.50"/>
<polygon points="427.81,330.91 430.40,333.50 427.81,336.09 425.22,333.50"/>
<polygon points="435.74,330.91 438.33,333.50 435.74,336.09 433.15,333.50"/>
<polygon points="443.67,330.91 446.26,333.50 443.67,336.09 441.08,333.50"/>
<polygon points="451.60,330.91 454.19,333.50 451.60,336.09 449.01,333.50"/>
<polygon points="459.53,330.91 462.12,333.50 459.53,336.09 456.94,333.50"/>
<polygon points="467.46,330.91 470.05,333.50 467.46,336.09 464.87,333.50"/>
<rect x="290.60" y="225.90" width="4.80" height="4.80"/>
<rect x="298.53" y="225.90" width="4.80" height="4.80"/>
<rect x="306.46" y="225.90" width="4.80" height="4.80"/>
<rect x="314.39" y="225.90" width="4.80" height="4.80"/>
<rect x="322.32" y="225.90" width="4.80" height="4.80"/>
<rect x="330.25" y="225.90" width="4.80" height="4.80"/>
<rect x="338.18" y="225.90" width="4.80" height="4.80"/>
<rect x="346.11" y="225.90" width="4.80" height="4.80"/>
<rect x="346.11" y="310.06" width="4.80" height="4.80"/>
<rect x="354.04" y="310.06" width="4.80" height="4.80"/>
<rect x="361.97" y="310.06" width="4.80" height="4.80"/>
<rect x="369.90" y="310.06" width="4.80" height="4.80"/>
<rect x="369.90" y="331.10" width="4.80" height="4.80"/>
<rect x="377.83" y="331.10" width="4.80" height="4.80"/>
<rect x="385.76" y="331.10" width="4.80" height="4.80"/>
<rect x="393.69" y="331.10" width="4.80" height="4.80"/>
<rect x="401.62" y="331.10" width="4.80" height="4.80"/>
<rect x="409.55" y="331.10" width="4.80" height="4.80"/>
<rect x="417.48" y="331.10" width="4.80" height="4.80"/>
<rect x="425.41" y="331.10" width="4.80" height="4.80"/>
<rect x="433.34" y="331.10" width="4.80" height="4.80"/>
<rect x="441.27" y="331.10" width="4.80" height="4.80"/>
<rect x="449.20" y="331.10" width="4.80" height="4.80"/>
<rect x="457.13" y="331.10" width="4.80" height="4.80"/>
<rect x="465.06" y="331.10" width="4.80" height="4.80"/>
<path d="M376.0,224.30H391.3" stroke="#000" stroke-width="1.4" fill="none"/>
<polygon points="383.65,221.87 386.08,224.30 383.65,226.73 381.22,224.30"/>
<text transform="translate(394.6,228.84) scale(0.94,1)" font-size="9.9">WT</text>
<path d="M376.0,236.20H391.3" stroke="#000" stroke-width="1.4" fill="none"/>
<rect x="381.40" y="233.95" width="4.50" height="4.50"/>
<text transform="translate(394.6,241.04) scale(0.94,1)" font-size="9.9">TLR4</text>
<path d="M376.0,249.20H391.3" stroke="#000" stroke-width="1.4" fill="none"/>
<polygon points="383.65,246.23 386.24,251.41 381.06,251.41"/>
<text transform="translate(394.4,253.94) scale(0.94,1)" font-size="9.9">CD14</text>
</g>
<g>
<text transform="translate(3.8,401.0) scale(0.95,1)" font-size="14.2" font-weight="bold">E</text>
<path d="M42.10,424.40V530.60H214.03" fill="none" stroke="#000" stroke-width="1.5"/>
<path d="M37.80,530.60H42.10M37.80,509.46H42.10M37.80,488.32H42.10M37.80,467.18H42.10M37.80,446.04H42.10M37.80,424.90H42.10M42.10,530.60V533.20M57.73,530.60V533.20M73.36,530.60V533.20M88.99,530.60V533.20M104.62,530.60V533.20M120.25,530.60V533.20M135.88,530.60V533.20M151.51,530.60V533.20M167.14,530.60V533.20M182.77,530.60V533.20M198.40,530.60V533.20M214.03,530.60V533.20" fill="none" stroke="#000" stroke-width="1.1"/>
<g font-size="10.2" text-anchor="end">
<text transform="translate(30.50,535.26) scale(0.93,1)">0</text>
<text transform="translate(31.70,514.12) scale(0.93,1)">20</text>
<text transform="translate(31.70,492.98) scale(0.93,1)">40</text>
<text transform="translate(31.70,471.84) scale(0.93,1)">60</text>
<text transform="translate(31.70,450.70) scale(0.93,1)">80</text>
<text transform="translate(33.40,429.56) scale(0.93,1)">100</text>
</g>
<g font-size="10.2" text-anchor="middle">
<text transform="translate(42.90,549.50) scale(0.93,1)">0</text>
<text transform="translate(58.53,549.50) scale(0.93,1)">2</text>
<text transform="translate(74.16,549.50) scale(0.93,1)">4</text>
<text transform="translate(89.79,549.50) scale(0.93,1)">6</text>
<text transform="translate(105.42,549.50) scale(0.93,1)">8</text>
<text transform="translate(121.05,549.50) scale(0.93,1)">10</text>
<text transform="translate(136.68,549.50) scale(0.93,1)">12</text>
<text transform="translate(152.31,549.50) scale(0.93,1)">14</text>
<text transform="translate(167.94,549.50) scale(0.93,1)">16</text>
<text transform="translate(183.57,549.50) scale(0.93,1)">18</text>
<text transform="translate(199.20,549.50) scale(0.93,1)">20</text>
<text transform="translate(214.83,549.50) scale(0.93,1)">22</text>
</g>
<text transform="translate(104.0,565.0) scale(1.0,1)" font-size="9.5" font-weight="bold" text-anchor="middle">Days post infection</text>
<text transform="translate(7.40,466.50) rotate(-90)" font-size="9.7" font-weight="bold" text-anchor="middle">Survival [%]</text>
<path d="M42.10,424.90L49.91,424.90L57.73,424.90L65.55,424.90L73.36,424.90L81.18,424.90L88.99,424.90L96.81,424.90L96.81,520.03L104.62,520.03L104.62,530.60L112.44,530.60L120.25,530.60L128.06,530.60L135.88,530.60L143.69,530.60L151.51,530.60L159.33,530.60L167.14,530.60L174.96,530.60L182.77,530.60L190.59,530.60L198.40,530.60L206.22,530.60L214.03,530.60" fill="none" stroke="#000" stroke-width="1.45" stroke-linejoin="miter"/>
<path d="M42.10,424.90L49.91,424.90L57.73,424.90L65.55,424.90L73.36,424.90L81.18,424.90L88.99,424.90L88.99,483.04L96.81,483.04L96.81,530.60L104.62,530.60L112.44,530.60L120.25,530.60L128.06,530.60L135.88,530.60L143.69,530.60L151.51,530.60L159.33,530.60L167.14,530.60L174.96,530.60L182.77,530.60L190.59,530.60L198.40,530.60L206.22,530.60L214.03,530.60" fill="none" stroke="#000" stroke-width="1.45" stroke-linejoin="miter"/>
<polygon points="42.10,422.63 44.37,424.90 42.10,427.17 39.83,424.90"/>
<polygon points="49.91,422.63 52.18,424.90 49.91,427.17 47.65,424.90"/>
<polygon points="57.73,422.63 60.00,424.90 57.73,427.17 55.46,424.90"/>
<polygon points="65.55,422.63 67.81,424.90 65.55,427.17 63.28,424.90"/>
<polygon points="73.36,422.63 75.63,424.90 73.36,427.17 71.09,424.90"/>
<polygon points="81.18,422.63 83.44,424.90 81.18,427.17 78.91,424.90"/>
<polygon points="88.99,422.63 91.26,424.90 88.99,427.17 86.72,424.90"/>
<polygon points="96.81,422.63 99.07,424.90 96.81,427.17 94.54,424.90"/>
<polygon points="96.81,517.76 99.07,520.03 96.81,522.30 94.54,520.03"/>
<polygon points="104.62,517.76 106.89,520.03 104.62,522.30 102.35,520.03"/>
<polygon points="104.62,528.33 106.89,530.60 104.62,532.87 102.35,530.60"/>
<polygon points="112.44,528.33 114.70,530.60 112.44,532.87 110.17,530.60"/>
<polygon points="120.25,528.33 122.52,530.60 120.25,532.87 117.98,530.60"/>
<polygon points="128.06,528.33 130.33,530.60 128.06,532.87 125.80,530.60"/>
<polygon points="135.88,528.33 138.15,530.60 135.88,532.87 133.61,530.60"/>
<polygon points="143.69,528.33 145.96,530.60 143.69,532.87 141.43,530.60"/>
<polygon points="151.51,528.33 153.78,530.60 151.51,532.87 149.24,530.60"/>
<polygon points="159.33,528.33 161.59,530.60 159.33,532.87 157.06,530.60"/>
<polygon points="167.14,528.33 169.41,530.60 167.14,532.87 164.87,530.60"/>
<polygon points="174.96,528.33 177.22,530.60 174.96,532.87 172.69,530.60"/>
<polygon points="182.77,528.33 185.04,530.60 182.77,532.87 180.50,530.60"/>
<polygon points="190.59,528.33 192.85,530.60 190.59,532.87 188.32,530.60"/>
<polygon points="198.40,528.33 200.67,530.60 198.40,532.87 196.13,530.60"/>
<polygon points="206.22,528.33 208.48,530.60 206.22,532.87 203.95,530.60"/>
<polygon points="214.03,528.33 216.30,530.60 214.03,532.87 211.76,530.60"/>
<rect x="40.00" y="422.80" width="4.20" height="4.20"/>
<rect x="47.81" y="422.80" width="4.20" height="4.20"/>
<rect x="55.63" y="422.80" width="4.20" height="4.20"/>
<rect x="63.45" y="422.80" width="4.20" height="4.20"/>
<rect x="71.26" y="422.80" width="4.20" height="4.20"/>
<rect x="79.08" y="422.80" width="4.20" height="4.20"/>
<rect x="86.89" y="422.80" width="4.20" height="4.20"/>
<rect x="86.89" y="480.94" width="4.20" height="4.20"/>
<rect x="94.71" y="480.94" width="4.20" height="4.20"/>
<rect x="94.71" y="528.50" width="4.20" height="4.20"/>
<rect x="102.52" y="528.50" width="4.20" height="4.20"/>
<rect x="110.34" y="528.50" width="4.20" height="4.20"/>
<rect x="118.15" y="528.50" width="4.20" height="4.20"/>
<rect x="125.97" y="528.50" width="4.20" height="4.20"/>
<rect x="133.78" y="528.50" width="4.20" height="4.20"/>
<rect x="141.59" y="528.50" width="4.20" height="4.20"/>
<rect x="149.41" y="528.50" width="4.20" height="4.20"/>
<rect x="157.23" y="528.50" width="4.20" height="4.20"/>
<rect x="165.04" y="528.50" width="4.20" height="4.20"/>
<rect x="172.86" y="528.50" width="4.20" height="4.20"/>
<rect x="180.67" y="528.50" width="4.20" height="4.20"/>
<rect x="188.49" y="528.50" width="4.20" height="4.20"/>
<rect x="196.30" y="528.50" width="4.20" height="4.20"/>
<rect x="204.12" y="528.50" width="4.20" height="4.20"/>
<rect x="211.93" y="528.50" width="4.20" height="4.20"/>
<path d="M151.0,430.50H162.2" stroke="#000" stroke-width="1.45" fill="none"/>
<polygon points="156.60,428.11 158.99,430.50 156.60,432.89 154.21,430.50"/>
<text transform="translate(166.8,433.88) scale(0.95,1)" font-size="10.0">WT</text>
<path d="M151.0,441.30H162.2" stroke="#000" stroke-width="1.45" fill="none"/>
<rect x="154.30" y="439.00" width="4.60" height="4.60"/>
<text transform="translate(166.8,445.98) scale(0.95,1)" font-size="10.0">TLR3</text>
</g>
<g>
<text transform="translate(257.8,401.2) scale(0.95,1)" font-size="14.2" font-weight="bold">F</text>
<path d="M293.50,426.70V529.20H464.66" fill="none" stroke="#000" stroke-width="1.5"/>
<path d="M289.30,529.20H293.50M289.30,508.80H293.50M289.30,488.40H293.50M289.30,468.00H293.50M289.30,447.60H293.50M289.30,427.20H293.50M293.50,529.20V531.80M309.06,529.20V531.80M324.62,529.20V531.80M340.18,529.20V531.80M355.74,529.20V531.80M371.30,529.20V531.80M386.86,529.20V531.80M402.42,529.20V531.80M417.98,529.20V531.80M433.54,529.20V531.80M449.10,529.20V531.80M464.66,529.20V531.80" fill="none" stroke="#000" stroke-width="1.1"/>
<g font-size="10.0" text-anchor="end">
<text transform="translate(286.50,533.38) scale(0.92,1)">0</text>
<text transform="translate(286.50,512.98) scale(0.92,1)">20</text>
<text transform="translate(286.50,492.58) scale(0.92,1)">40</text>
<text transform="translate(286.50,472.18) scale(0.92,1)">60</text>
<text transform="translate(286.50,451.78) scale(0.92,1)">80</text>
<text transform="translate(286.50,431.38) scale(0.92,1)">100</text>
</g>
<g font-size="10.0" text-anchor="middle">
<text transform="translate(293.80,546.60) scale(0.92,1)">0</text>
<text transform="translate(309.36,546.60) scale(0.92,1)">2</text>
<text transform="translate(324.92,546.60) scale(0.92,1)">4</text>
<text transform="translate(340.48,546.60) scale(0.92,1)">6</text>
<text transform="translate(356.04,546.60) scale(0.92,1)">8</text>
<text transform="translate(371.60,546.60) scale(0.92,1)">10</text>
<text transform="translate(387.16,546.60) scale(0.92,1)">12</text>
<text transform="translate(402.72,546.60) scale(0.92,1)">14</text>
<text transform="translate(418.28,546.60) scale(0.92,1)">16</text>
<text transform="translate(433.84,546.60) scale(0.92,1)">18</text>
<text transform="translate(449.40,546.60) scale(0.92,1)">20</text>
<text transform="translate(464.96,546.60) scale(0.92,1)">22</text>
</g>
<text transform="translate(391.6,562.5) scale(1.0,1)" font-size="9.5" font-weight="bold" text-anchor="middle">Days post infection</text>
<text transform="translate(263.70,469.20) rotate(-90)" font-size="9.7" font-weight="bold" text-anchor="middle">Survival [%]</text>
<path d="M293.50,427.20L301.28,427.20L309.06,427.20L316.84,427.20L324.62,427.20L332.40,427.20L340.18,427.20L340.18,473.10L347.96,473.10L347.96,529.20L355.74,529.20L363.52,529.20L371.30,529.20L379.08,529.20L386.86,529.20L394.64,529.20L402.42,529.20L410.20,529.20L417.98,529.20L425.76,529.20L433.54,529.20L441.32,529.20L449.10,529.20L456.88,529.20" fill="none" stroke="#000" stroke-width="1.5" stroke-linejoin="miter"/>
<path d="M293.50,427.20L301.28,427.20L309.06,427.20L316.84,427.20L324.62,427.20L332.40,427.20L340.18,427.20L347.96,427.20L347.96,488.40L355.74,488.40L355.74,529.20L363.52,529.20L371.30,529.20L379.08,529.20L386.86,529.20L394.64,529.20L402.42,529.20L410.20,529.20L417.98,529.20L425.76,529.20L433.54,529.20L441.32,529.20L449.10,529.20L456.88,529.20" fill="none" stroke="#000" stroke-width="1.5" stroke-linejoin="miter"/>
<path d="M293.50,427.20L301.28,427.20L309.06,427.20L316.84,427.20L324.62,427.20L332.40,427.20L340.18,427.20L347.96,427.20L347.96,452.70L355.74,452.70L355.74,516.45L363.52,516.45L363.52,529.20L371.30,529.20L379.08,529.20L386.86,529.20L394.64,529.20L402.42,529.20L410.20,529.20L417.98,529.20L425.76,529.20L433.54,529.20L441.32,529.20L449.10,529.20L456.88,529.20" fill="none" stroke="#000" stroke-width="1.5" stroke-linejoin="miter"/>
<polygon points="293.50,424.36 295.97,429.31 291.03,429.31"/>
<polygon points="301.28,424.36 303.75,429.31 298.81,429.31"/>
<polygon points="309.06,424.36 311.53,429.31 306.59,429.31"/>
<polygon points="316.84,424.36 319.31,429.31 314.37,429.31"/>
<polygon points="324.62,424.36 327.09,429.31 322.15,429.31"/>
<polygon points="332.40,424.36 334.87,429.31 329.93,429.31"/>
<polygon points="340.18,424.36 342.65,429.31 337.71,429.31"/>
<polygon points="340.18,470.26 342.65,475.21 337.71,475.21"/>
<polygon points="347.96,470.26 350.43,475.21 345.49,475.21"/>
<polygon points="347.96,526.36 350.43,531.31 345.49,531.31"/>
<polygon points="355.74,526.36 358.21,531.31 353.27,531.31"/>
<polygon points="363.52,526.36 365.99,531.31 361.05,531.31"/>
<polygon points="371.30,526.36 373.77,531.31 368.83,531.31"/>
<polygon points="379.08,526.36 381.55,531.31 376.61,531.31"/>
<polygon points="386.86,526.36 389.33,531.31 384.39,531.31"/>
<polygon points="394.64,526.36 397.11,531.31 392.17,531.31"/>
<polygon points="402.42,526.36 404.89,531.31 399.95,531.31"/>
<polygon points="410.20,526.36 412.67,531.31 407.73,531.31"/>
<polygon points="417.98,526.36 420.45,531.31 415.51,531.31"/>
<polygon points="425.76,526.36 428.23,531.31 423.29,531.31"/>
<polygon points="433.54,526.36 436.01,531.31 431.07,531.31"/>
<polygon points="441.32,526.36 443.79,531.31 438.85,531.31"/>
<polygon points="449.10,526.36 451.57,531.31 446.63,531.31"/>
<polygon points="456.88,526.36 459.35,531.31 454.41,531.31"/>
<polygon points="293.50,424.88 295.82,427.20 293.50,429.52 291.18,427.20"/>
<polygon points="301.28,424.88 303.60,427.20 301.28,429.52 298.96,427.20"/>
<polygon points="309.06,424.88 311.38,427.20 309.06,429.52 306.74,427.20"/>
<polygon points="316.84,424.88 319.16,427.20 316.84,429.52 314.52,427.20"/>
<polygon points="324.62,424.88 326.94,427.20 324.62,429.52 322.30,427.20"/>
<polygon points="332.40,424.88 334.72,427.20 332.40,429.52 330.08,427.20"/>
<polygon points="340.18,424.88 342.50,427.20 340.18,429.52 337.86,427.20"/>
<polygon points="347.96,424.88 350.28,427.20 347.96,429.52 345.64,427.20"/>
<polygon points="347.96,486.08 350.28,488.40 347.96,490.72 345.64,488.40"/>
<polygon points="355.74,486.08 358.06,488.40 355.74,490.72 353.42,488.40"/>
<polygon points="355.74,526.88 358.06,529.20 355.74,531.52 353.42,529.20"/>
<polygon points="363.52,526.88 365.84,529.20 363.52,531.52 361.20,529.20"/>
<polygon points="371.30,526.88 373.62,529.20 371.30,531.52 368.98,529.20"/>
<polygon points="379.08,526.88 381.40,529.20 379.08,531.52 376.76,529.20"/>
<polygon points="386.86,526.88 389.18,529.20 386.86,531.52 384.54,529.20"/>
<polygon points="394.64,526.88 396.96,529.20 394.64,531.52 392.32,529.20"/>
<polygon points="402.42,526.88 404.74,529.20 402.42,531.52 400.10,529.20"/>
<polygon points="410.20,526.88 412.52,529.20 410.20,531.52 407.88,529.20"/>
<polygon points="417.98,526.88 420.30,529.20 417.98,531.52 415.66,529.20"/>
<polygon points="425.76,526.88 428.08,529.20 425.76,531.52 423.44,529.20"/>
<polygon points="433.54,526.88 435.86,529.20 433.54,531.52 431.22,529.20"/>
<polygon points="441.32,526.88 443.64,529.20 441.32,531.52 439.00,529.20"/>
<polygon points="449.10,526.88 451.42,529.20 449.10,531.52 446.78,529.20"/>
<polygon points="456.88,526.88 459.20,529.20 456.88,531.52 454.56,529.20"/>
<circle cx="293.50" cy="427.20" r="2.37"/>
<circle cx="301.28" cy="427.20" r="2.37"/>
<circle cx="309.06" cy="427.20" r="2.37"/>
<circle cx="316.84" cy="427.20" r="2.37"/>
<circle cx="324.62" cy="427.20" r="2.37"/>
<circle cx="332.40" cy="427.20" r="2.37"/>
<circle cx="340.18" cy="427.20" r="2.37"/>
<circle cx="347.96" cy="427.20" r="2.37"/>
<circle cx="347.96" cy="452.70" r="2.37"/>
<circle cx="355.74" cy="452.70" r="2.37"/>
<circle cx="355.74" cy="516.45" r="2.37"/>
<circle cx="363.52" cy="516.45" r="2.37"/>
<circle cx="363.52" cy="529.20" r="2.37"/>
<circle cx="371.30" cy="529.20" r="2.37"/>
<circle cx="379.08" cy="529.20" r="2.37"/>
<circle cx="386.86" cy="529.20" r="2.37"/>
<circle cx="394.64" cy="529.20" r="2.37"/>
<circle cx="402.42" cy="529.20" r="2.37"/>
<circle cx="410.20" cy="529.20" r="2.37"/>
<circle cx="417.98" cy="529.20" r="2.37"/>
<circle cx="425.76" cy="529.20" r="2.37"/>
<circle cx="433.54" cy="529.20" r="2.37"/>
<circle cx="441.32" cy="529.20" r="2.37"/>
<circle cx="449.10" cy="529.20" r="2.37"/>
<circle cx="456.88" cy="529.20" r="2.37"/>
<path d="M398.6,421.70H413.4" stroke="#000" stroke-width="1.5" fill="none"/>
<polygon points="406.00,418.85 408.85,421.70 406.00,424.55 403.15,421.70"/>
<text transform="translate(416.3,425.28) scale(0.95,1)" font-size="10.0">WT</text>
<path d="M398.6,434.40H413.4" stroke="#000" stroke-width="1.5" fill="none"/>
<circle cx="406.00" cy="434.40" r="2.53"/>
<text transform="translate(416.3,437.98) scale(0.95,1)" font-size="10.0">MyD88</text>
<path d="M398.6,446.70H413.4" stroke="#000" stroke-width="1.5" fill="none"/>
<polygon points="406.00,443.66 408.64,448.95 403.36,448.95"/>
<text transform="translate(416.3,450.28) scale(0.95,1)" font-size="10.0">TIRAP</text>
<path d="M398.6,460.00H413.4" stroke="#000" stroke-width="1.5" fill="none"/>
<path d="M404.07,458.07L407.93,461.93M404.07,461.93L407.93,458.07M406.00,458.07V461.93" stroke="#000" stroke-width="1.2" fill="none"/>
<text transform="translate(416.3,463.58) scale(0.95,1)" font-size="10.0">TRIF</text>
</g>
</svg>
</body>
</html>
